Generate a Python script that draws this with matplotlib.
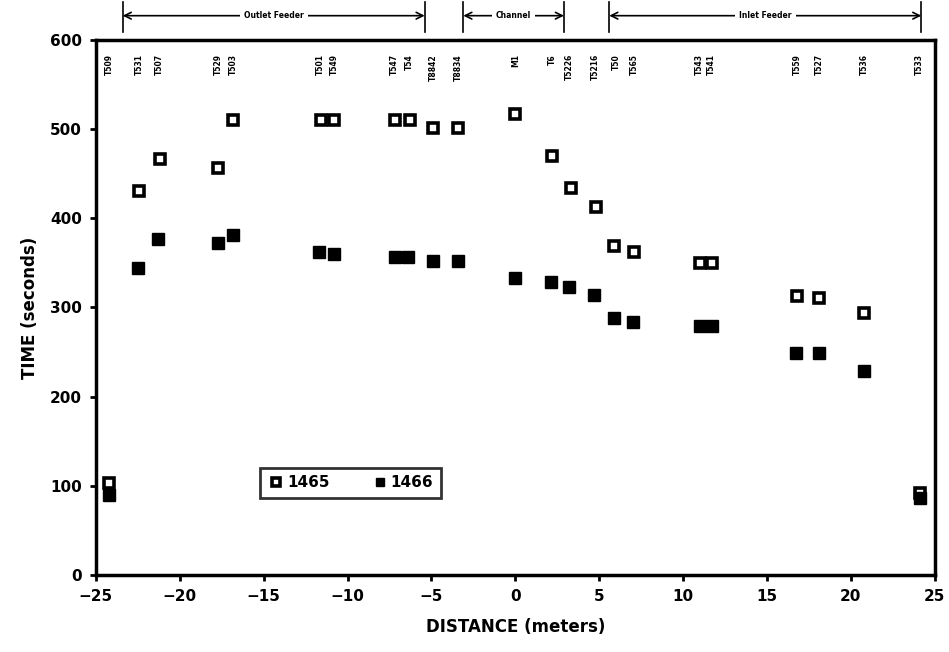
"""
Travel time vs distance along the feeder/channel, runs 1465 and 1466.
"""

import matplotlib
matplotlib.use("Agg")
import matplotlib.pyplot as plt

# station positions (m) and labels
station_x = [-24.2, -22.4, -21.2, -17.7, -16.8, -11.6, -10.8, -7.2, -6.3, -4.9, -3.4,
             0.0, 2.2, 3.2, 4.8, 6.0, 7.1, 11.0, 11.7, 16.8, 18.1, 20.8, 24.1]
station_labels = ["T509", "T531", "T507", "T529", "T503", "T501", "T549", "T547", "T54",
                  "T8842", "T8834", "M1", "T6", "T5226", "T5216", "T50", "T565",
                  "T543", "T541", "T559", "T527", "T536", "T533"]

# run 1465 (open squares)
x_1465 = [-24.2, -22.4, -21.2, -17.7, -16.8, -11.6, -10.8, -7.2, -6.3, -4.9, -3.4,
          0.0, 2.2, 3.3, 4.8, 5.9, 7.1, 11.0, 11.7, 16.8, 18.1, 20.8, 24.1]
t_1465 = [103, 430, 466, 456, 510, 510, 510, 510, 510, 501, 501,
          517, 470, 434, 412, 369, 362, 350, 350, 313, 311, 294, 92]

# run 1466 (filled squares)
x_1466 = [-24.2, -22.5, -21.3, -17.7, -16.8, -11.7, -10.8, -7.2, -6.4, -4.9, -3.4,
          0.0, 2.1, 3.2, 4.7, 5.9, 7.0, 11.0, 11.7, 16.7, 18.1, 20.8, 24.1]
t_1466 = [90, 344, 377, 372, 381, 362, 360, 357, 357, 352, 352,
          333, 329, 323, 314, 288, 284, 279, 279, 249, 249, 229, 86]

# reach brackets above the plot
reach_names = ["Outlet Feeder", "Channel", "Inlet Feeder"]
reach_start = [-23.4, -3.1, 5.6]
reach_end = [-5.4, 2.9, 24.2]

plt.rcParams.update({"font.family": "DejaVu Sans", "font.weight": "bold"})

fig = plt.figure(figsize=(9.49, 6.52), dpi=100)
ax = fig.add_axes([0.101, 0.118, 0.884, 0.821])

ax.plot(x_1465, t_1465, "s", ms=7.5, mfc="white", mec="black", mew=2.6,
        ls="none", label="1465")
ax.plot(x_1466, t_1466, "s", ms=8, mfc="black", mec="black", mew=1,
        ls="none", label="1466")

ax.set_xlim(-25, 25)
ax.set_ylim(0, 600)
ax.set_xticks(range(-25, 26, 5))
ax.set_yticks(range(0, 601, 100))
ax.tick_params(direction="out", length=4, width=2, labelsize=11, pad=6)
for lab in ax.get_xticklabels() + ax.get_yticklabels():
    lab.set_fontweight("bold")
for sp in ax.spines.values():
    sp.set_linewidth(2.5)

ax.set_xlabel("DISTANCE (meters)", fontsize=12, fontweight="bold", labelpad=10)
ax.set_ylabel("TIME (seconds)", fontsize=12, fontweight="bold", labelpad=8)

for sx, name in zip(station_x, station_labels):
    ax.text(sx, 584, name, rotation=90, ha="center", va="top", fontsize=5.5,
            fontweight="bold")

# reach brackets
yb = 1.045
for name, xs, xe in zip(reach_names, reach_start, reach_end):
    ax.annotate("", xy=(xs, yb), xytext=(xe, yb),
                xycoords=("data", "axes fraction"), textcoords=("data", "axes fraction"),
                arrowprops=dict(arrowstyle="<->", lw=1.2, color="black",
                                shrinkA=0, shrinkB=0, mutation_scale=12),
                annotation_clip=False)
    for xv in (xs, xe):
        ax.plot([xv, xv], [1.015, 1.07], color="black", lw=1.2,
                transform=ax.get_xaxis_transform(), clip_on=False)
    ax.text((xs + xe) / 2, yb, name, ha="center", va="center", fontsize=5.5,
            fontweight="bold", transform=ax.get_xaxis_transform(),
            bbox=dict(facecolor="white", edgecolor="none", pad=3))

leg = ax.legend(loc="center", bbox_to_anchor=(0.186, 0.135, 0.234, 0.075),
                mode="expand", ncol=2, frameon=True, fancybox=False,
                edgecolor="black", fontsize=11, handletextpad=0.1,
                borderpad=0.5, markerscale=0.75, handlelength=1.2)
leg.get_frame().set_linewidth(2)
for t in leg.get_texts():
    t.set_fontweight("bold")

fig.savefig("out.png", dpi=100, facecolor="white")
